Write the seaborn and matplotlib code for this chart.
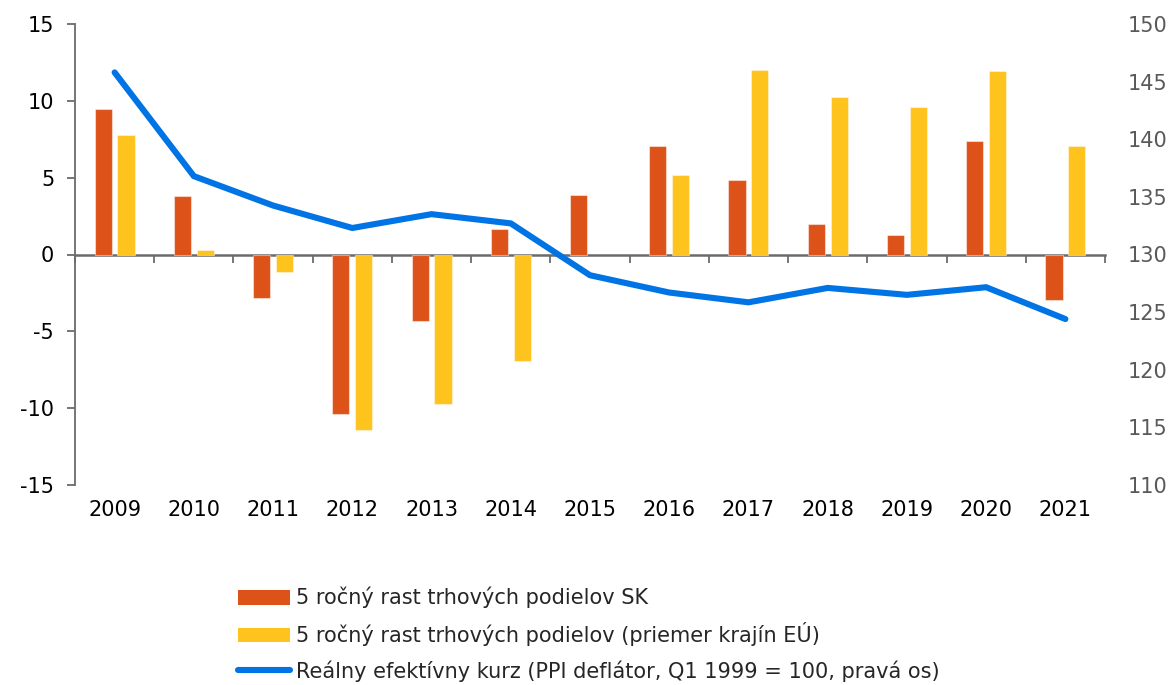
import numpy as np
import pandas as pd
import matplotlib
matplotlib.use("Agg")
import matplotlib.pyplot as plt
from matplotlib.patches import Patch
from matplotlib.lines import Line2D
import seaborn as sns

# ---- data ----
years = ["2009", "2010", "2011", "2012", "2013", "2014", "2015",
         "2016", "2017", "2018", "2019", "2020", "2021"]
sk_growth = [9.5, 3.8, -2.8, -10.4, -4.3, 1.65, 3.9, 7.07, 4.84, 1.98, 1.28, 7.4, -2.93]
eu_growth = [7.8, 0.28, -1.17, -11.4, -9.73, -6.92, np.nan, 5.16, 12.0, 10.26, 9.61, 11.95, 7.03]
reer = [145.8, 136.8, 134.25, 132.3, 133.5, 132.7, 128.2, 126.7, 125.85, 127.1, 126.5, 127.16, 124.4]
labels = ["5 ročný rast trhových podielov SK",
          "5 ročný rast trhových podielov (priemer krajín EÚ)",
          "Reálny efektívny kurz (PPI deflátor, Q1 1999 = 100, pravá os)"]
left_ticks = [-15, -10, -5, 0, 5, 10, 15]
right_ticks = [110, 115, 120, 125, 130, 135, 140, 145, 150]

c_sk = "#DD5219"
c_eu = "#FFC31E"
c_line = "#0074E4"
axis_gray = "#6B6B6B"

df = pd.DataFrame({
    "year": years * 2,
    "value": sk_growth + eu_growth,
    "series": [labels[0]] * len(years) + [labels[1]] * len(years),
})

sns.set_style("white")
plt.rcParams["font.family"] = ["DejaVu Sans"]
fs = 15

fig = plt.figure(figsize=(11.68, 6.85), dpi=100)
ax = fig.add_axes([75 / 1168, 1 - 485 / 685, (1105 - 75) / 1168, (485 - 24) / 685])

sns.barplot(data=df, x="year", y="value", hue="series", order=years,
            hue_order=labels[:2], palette=[c_sk, c_eu], saturation=1,
            width=0.576, gap=0.25,
            edgecolor=(1, 1, 1, 0.45), linewidth=0.8, legend=False, ax=ax)

ax.set_xlim(-0.5, len(years) - 0.5)
ax.set_ylim(-15, 15)
ax.set_yticks(left_ticks)
ax.set_yticklabels([str(t) for t in left_ticks])
ax.set_xlabel("")
ax.set_ylabel("")
for s in ["top", "right", "bottom"]:
    ax.spines[s].set_visible(False)
ax.spines["left"].set_color(axis_gray)
ax.spines["left"].set_linewidth(1.3)
ax.tick_params(axis="y", length=6, width=1.3, color=axis_gray, pad=9,
               labelsize=fs, labelcolor="black", left=True, direction="out")
ax.tick_params(axis="x", length=0, pad=11, labelsize=fs, labelcolor="black")

# category boundary ticks along the zero line
sec = ax.secondary_xaxis(0.5)
sec.set_alignment("bottom")
sec.set_xticks(np.arange(len(years) + 1) - 0.5)
sec.tick_params(axis="x", length=6, width=1.3, color=axis_gray, labelbottom=False,
                direction="out")
sec.spines["bottom"].set_color(axis_gray)
sec.spines["bottom"].set_linewidth(1.8)

# right axis line
ax2 = ax.twinx()
sns.lineplot(x=np.arange(len(years)), y=reer, ax=ax2, color=c_line,
             linewidth=4.4, solid_capstyle="round", solid_joinstyle="miter")
ax2.set_xlim(-0.5, len(years) - 0.5)
ax2.set_ylim(110, 150)
ax2.set_yticks(right_ticks)
ax2.set_yticklabels([str(t) for t in right_ticks])
for s in ax2.spines.values():
    s.set_visible(False)
ax2.tick_params(axis="y", length=0, pad=16, labelsize=fs, labelcolor="#595959")
ax2.set_ylabel("")

handles = [Patch(facecolor=c_sk, edgecolor="none"),
           Patch(facecolor=c_eu, edgecolor="none"),
           Line2D([0], [0], color=c_line, linewidth=4.4, solid_capstyle="round")]
fig.legend(handles, labels, loc="upper left", bbox_to_anchor=(238 / 1168, 1 - 587 / 685),
           frameon=False, fontsize=fs, handlelength=2.5, handletextpad=0.3,
           labelspacing=0.66, borderaxespad=0, borderpad=0)

fig.savefig("out.png", dpi=100)
